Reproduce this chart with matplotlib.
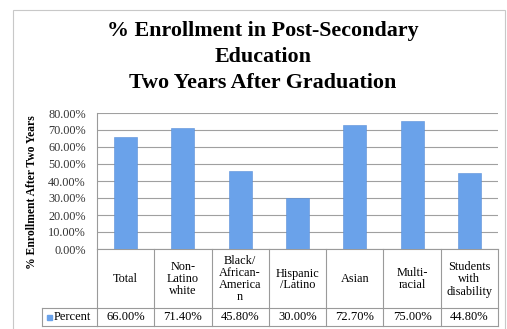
import numpy as np
import matplotlib.pyplot as plt
from matplotlib.patches import Rectangle
import matplotlib.transforms as mtransforms

# data
categories = ["Total", "Non-\nLatino\nwhite", "Black/\nAfrican-\nAmerica\nn",
              "Hispanic\n/Latino", "Asian", "Multi-\nracial", "Students\nwith\ndisability"]
percent = [66.0, 71.4, 45.8, 30.0, 72.7, 75.0, 44.8]
series_name = "Percent"
yticks = [0, 10, 20, 30, 40, 50, 60, 70, 80]

plt.rcParams['font.family'] = ['Liberation Serif', 'DejaVu Serif']

W, H = 507, 329
fig = plt.figure(figsize=(W / 100, H / 100), dpi=100)

def px_rect(x0, y0, x1, y1):
    return [x0 / W, 1 - y1 / H, (x1 - x0) / W, (y1 - y0) / H]

# chart border
fig.patches.append(Rectangle((13 / W, -0.01), (505 - 13) / W, 1 - 10 / H + 0.01,
                             transform=fig.transFigure, fill=False,
                             edgecolor='#c8c8c8', linewidth=0.8))

# title
fig.text(263 / W, 1 - 57 / H, "% Enrollment in Post-Secondary\nEducation\nTwo Years After Graduation",
         ha='center', va='center', fontsize=15.8, fontweight='bold', linespacing=1.38)

ax = fig.add_axes(px_rect(97, 113, 498, 249))
x = np.arange(len(categories))
ax.bar(x, percent, width=0.4, color='#6aa2ea', edgecolor='#5a8fd8', linewidth=0.4, zorder=3)
ax.set_xlim(-0.5, len(categories) - 0.5)
ax.set_ylim(0, 80)
ax.set_yticks(yticks)
ax.set_yticklabels([f"{v:.2f}%" for v in yticks], fontsize=8.8, color='#333333')
ax.tick_params(axis='y', length=0, pad=8)
ax.set_xticks([])
ax.grid(axis='y', color='#a0a0a0', linewidth=0.8, zorder=0)
for s in ['top', 'right']:
    ax.spines[s].set_visible(False)
ax.spines['left'].set_color('#9a9a9a')
ax.spines['bottom'].set_color('#9a9a9a')
ax.set_ylabel("% Enrollment After Two Years", fontsize=8.4, fontweight='bold')
ax.yaxis.set_label_coords((38 - 97) / 401, (249 - 192) / 136)

# data table below the plot
tr = mtransforms.blended_transform_factory(ax.transData, fig.transFigure)
y_top = 1 - 249 / H
y_mid = 1 - 308 / H
y_bot = 1 - 326 / H
lc = '#9a9a9a'
for i, (cat, val) in enumerate(zip(categories, percent)):
    ax.plot([i + 0.5, i + 0.5], [y_top, y_bot], transform=tr, color=lc, lw=0.8, clip_on=False)
    ax.text(i, (y_top + y_mid) / 2 - 1 / H, cat, transform=tr, ha='center', va='center',
            fontsize=8.8, linespacing=1.0)
    ax.text(i, (y_mid + y_bot) / 2, f"{val:.2f}%", transform=tr, ha='center', va='center',
            fontsize=9)
ax.plot([-0.5, -0.5], [y_top, y_bot], transform=tr, color=lc, lw=0.8, clip_on=False)
ax.plot([-0.5, len(categories) - 0.5], [y_mid, y_mid], transform=tr, color=lc, lw=0.8, clip_on=False)
ax.plot([-0.5, len(categories) - 0.5], [y_bot, y_bot], transform=tr, color=lc, lw=0.8, clip_on=False)

# legend cell
fig.add_artist(plt.Line2D([42 / W, 97 / W], [y_mid, y_mid], color=lc, lw=0.8))
fig.add_artist(plt.Line2D([42 / W, 97 / W], [y_bot, y_bot], color=lc, lw=0.8))
fig.add_artist(plt.Line2D([42 / W, 42 / W], [y_mid, y_bot], color=lc, lw=0.8))
fig.patches.append(Rectangle((47 / W, (y_mid + y_bot) / 2 - 2.5 / H), 5 / W, 5 / H,
                             transform=fig.transFigure, color='#6aa2ea'))
fig.text(54 / W, (y_mid + y_bot) / 2, series_name, ha='left', va='center', fontsize=9)

fig.savefig("out.png", dpi=100)
